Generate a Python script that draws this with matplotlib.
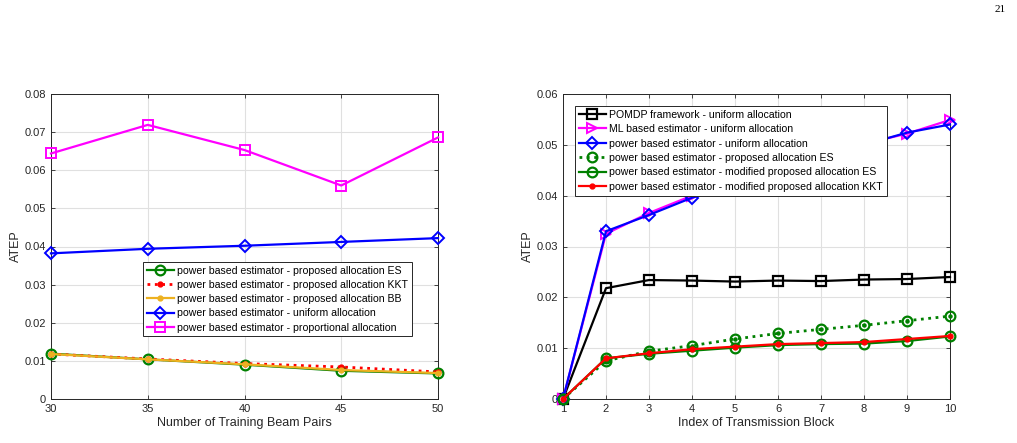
import matplotlib
matplotlib.use('Agg')
import matplotlib.pyplot as plt

plt.rcParams['font.family'] = ['Liberation Sans', 'DejaVu Sans']

# ── Data: left panel ──────────────────────────────────────────────────────────
beam_pairs = [30, 35, 40, 45, 50]
left_es = [0.0119, 0.0104, 0.0090, 0.0074, 0.0067]
left_kkt = [0.0118, 0.0105, 0.0093, 0.0084, 0.0071]
left_bb = [0.0118, 0.0104, 0.0091, 0.0076, 0.0068]
left_uniform = [0.0382, 0.0394, 0.0402, 0.0412, 0.0422]
left_proportional = [0.0644, 0.0719, 0.0653, 0.0560, 0.0686]

# ── Data: right panel ─────────────────────────────────────────────────────────
blocks = [1, 2, 3, 4, 5, 6, 7, 8, 9, 10]
pomdp = [0, 0.0218, 0.0234, 0.0233, 0.0231, 0.0233, 0.0232, 0.0235, 0.0236, 0.0240]
ml_uniform = [0, 0.0325, 0.0366, 0.0400, 0.0425, 0.0452, 0.0474, 0.0502, 0.0522, 0.0549]
pw_uniform = [0, 0.0330, 0.0362, 0.0396, 0.0422, 0.0450, 0.0472, 0.0500, 0.0524, 0.0540]
prop_es = [0, 0.0075, 0.0094, 0.0105, 0.0118, 0.0129, 0.0137, 0.0145, 0.0154, 0.0163]
mod_es = [0, 0.0080, 0.0089, 0.0095, 0.0101, 0.0106, 0.0108, 0.0109, 0.0114, 0.0123]
mod_kkt = [0, 0.0080, 0.0090, 0.0098, 0.0103, 0.0108, 0.0110, 0.0112, 0.0118, 0.0124]

GREEN = '#008000'
GOLD = '#EDB120'
MAG = '#FF00FF'
BLUE = '#0000FF'
RED = '#FF0000'

fig = plt.figure(figsize=(10.17, 4.43), dpi=100)
W, H = 1017, 443
ax1 = fig.add_axes([51 / W, 1 - 399 / H, (438 - 51) / W, (399 - 94) / H])
ax2 = fig.add_axes([563 / W, 1 - 399 / H, (950 - 563) / W, (399 - 94) / H])


def style(ax):
    ax.grid(True, color='#e0e0e0', linewidth=0.8)
    ax.set_axisbelow(True)
    ax.tick_params(direction='in', top=True, right=True, labelsize=8,
                   colors='#262626', length=3, width=0.6)
    for sp in ax.spines.values():
        sp.set_color('#262626')
        sp.set_linewidth(0.7)


lw = 1.6
kw = dict(clip_on=False, zorder=3)
ax1.plot(beam_pairs, left_es, '-o', color=GREEN, lw=lw, ms=7, mfc='none', mew=1.6,
         label='power based estimator - proposed allocation ES', **kw)
ax1.plot(beam_pairs, left_kkt, ':o', color=RED, lw=2.0, ms=3.5,
         label='power based estimator - proposed allocation KKT', **kw)
ax1.plot(beam_pairs, left_bb, '-o', color=GOLD, lw=lw, ms=3.5,
         label='power based estimator - proposed allocation BB', **kw)
ax1.plot(beam_pairs, left_uniform, '-D', color=BLUE, lw=lw, ms=6, mfc='none', mew=1.4,
         label='power based estimator - uniform allocation', **kw)
ax1.plot(beam_pairs, left_proportional, '-s', color=MAG, lw=lw, ms=7, mfc='none', mew=1.4,
         label='power based estimator - proportional allocation', **kw)
style(ax1)
ax1.set_xlim(30, 50)
ax1.set_ylim(0, 0.08)
ax1.set_xticks(beam_pairs)
ax1.set_yticks([0, 0.01, 0.02, 0.03, 0.04, 0.05, 0.06, 0.07, 0.08])
ax1.set_yticklabels(['0', '0.01', '0.02', '0.03', '0.04', '0.05', '0.06', '0.07', '0.08'])
ax1.set_xlabel('Number of Training Beam Pairs', fontsize=9, color='#262626', labelpad=2)
ax1.set_ylabel('ATEP', fontsize=9, color='#262626', labelpad=2)
leg1 = ax1.legend(loc='upper left', bbox_to_anchor=((143 - 51) / 387, 1 - (262 - 94) / 305),
                  fontsize=7.6, frameon=True, fancybox=False, edgecolor='#262626', framealpha=1,
                  handlelength=2.6, handletextpad=0.3, borderpad=0.35, labelspacing=0.4,
                  borderaxespad=0)
leg1.get_frame().set_linewidth(0.7)
leg1.set_zorder(5)

ax2.plot(blocks, pomdp, '-s', color='black', lw=lw, ms=7, mfc='none', mew=1.6,
         label='POMDP framework - uniform allocation', **kw)
ax2.plot(blocks, ml_uniform, '->', color=MAG, lw=lw, ms=7, mfc='none', mew=1.4,
         label='ML based estimator - uniform allocation', **kw)
ax2.plot(blocks, pw_uniform, '-D', color=BLUE, lw=lw, ms=6, mfc='none', mew=1.4,
         label='power based estimator - uniform allocation', **kw)
ax2.plot(blocks, prop_es, ':', color=GREEN, lw=2.0, marker='o', ms=7, mfc='none', mew=1.6,
         label='power based estimator - proposed allocation ES', **kw)
ax2.plot(blocks, prop_es, ' ', color=GREEN, marker='o', ms=2.2, **kw)
ax2.plot(blocks, mod_es, '-o', color=GREEN, lw=lw, ms=7, mfc='none', mew=1.6,
         label='power based estimator - modified proposed allocation ES', **kw)
ax2.plot(blocks, mod_kkt, '-o', color=RED, lw=lw, ms=3.5,
         label='power based estimator - modified proposed allocation KKT', **kw)
style(ax2)
ax2.set_xlim(1, 10)
ax2.set_ylim(0, 0.06)
ax2.set_xticks(blocks)
ax2.set_yticks([0, 0.01, 0.02, 0.03, 0.04, 0.05, 0.06])
ax2.set_yticklabels(['0', '0.01', '0.02', '0.03', '0.04', '0.05', '0.06'])
ax2.set_xlabel('Index of Transmission Block', fontsize=9, color='#262626', labelpad=2)
ax2.set_ylabel('ATEP', fontsize=9, color='#262626', labelpad=2)
leg2 = ax2.legend(loc='upper left', bbox_to_anchor=((575 - 563) / 387, 1 - (106 - 94) / 305),
                  fontsize=7.6, frameon=True, fancybox=False, edgecolor='#262626', framealpha=1,
                  handlelength=2.6, handletextpad=0.3, borderpad=0.35, labelspacing=0.42,
                  borderaxespad=0)
leg2.get_frame().set_linewidth(0.7)
leg2.set_zorder(5)

fig.text(1000 / W, 1 - 9 / H, '21', fontsize=8, ha='center', va='center',
         family=['Liberation Serif', 'DejaVu Serif'])

fig.savefig('out.png', dpi=100)
